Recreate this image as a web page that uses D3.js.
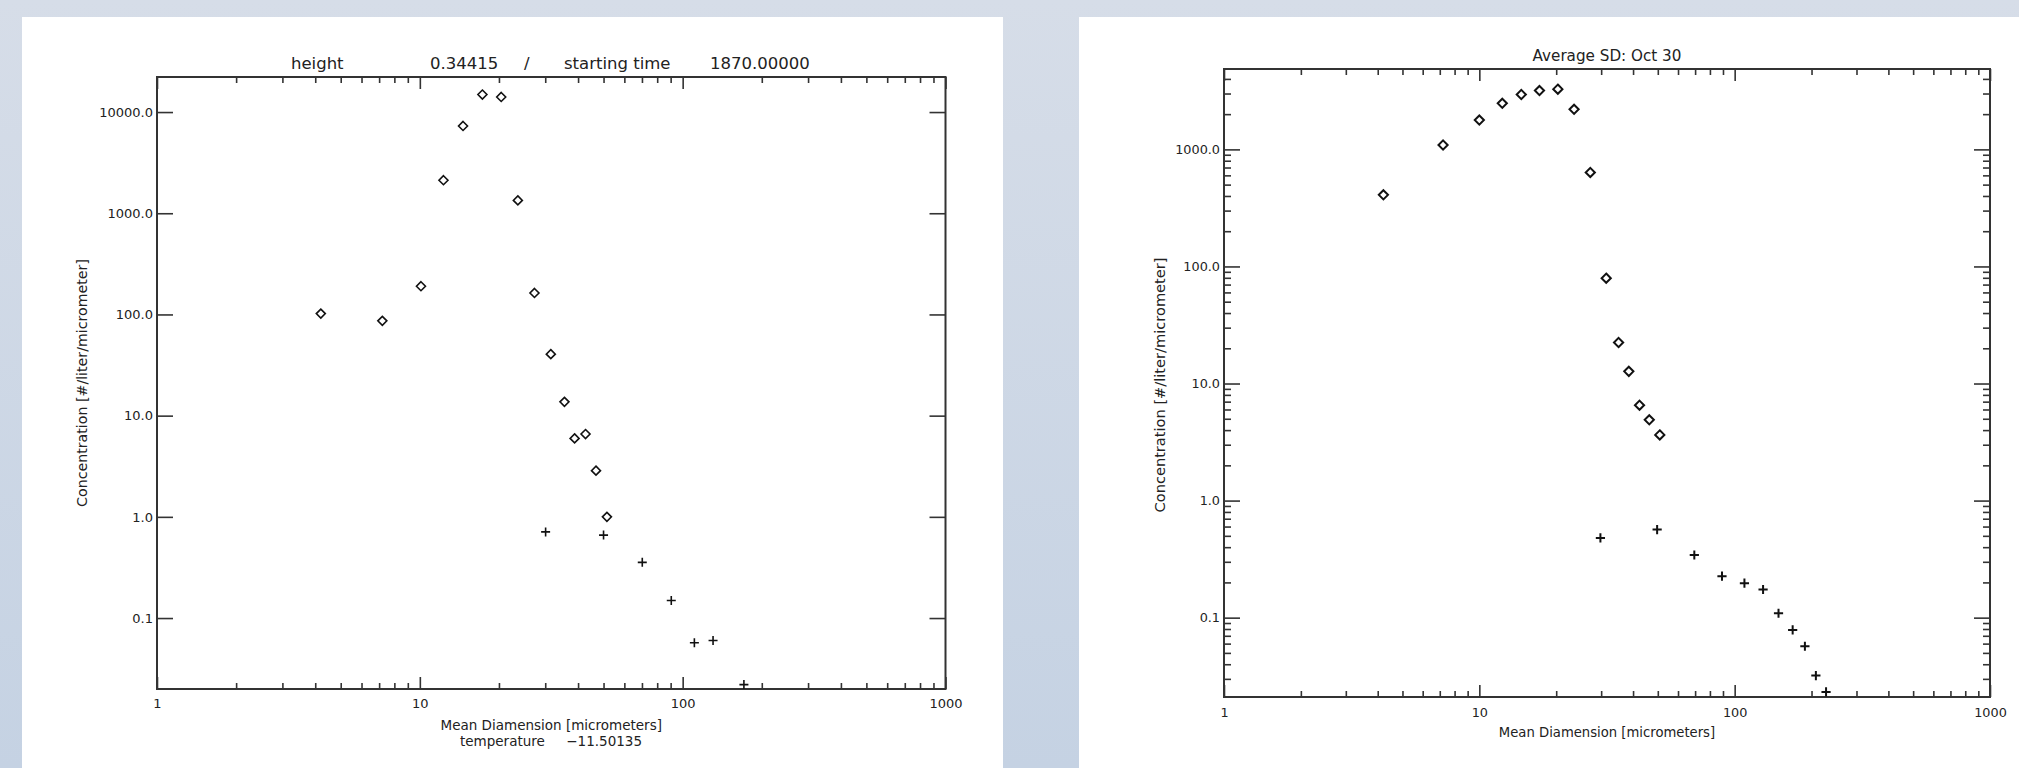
<!DOCTYPE html>
<html>
<head>
<meta charset="utf-8">
<script src="https://cdn.jsdelivr.net/npm/d3@7"></script>
<style>
  html, body { margin: 0; padding: 0; overflow: hidden; }
  svg { display: block; }
  text { font-family: "DejaVu Sans", sans-serif; fill: #222; }
</style>
</head>
<body>
<svg id="chart" width="2019" height="768"></svg>
<script>
// ---- data ----
// left plot: height 0.34415 / starting time 1870
var leftDiamondD = [4.2, 7.2, 10.1, 12.3, 14.6, 17.3, 20.4, 23.6, 27.3, 31.5, 35.5, 38.8, 42.7, 46.8, 51.5];
var leftDiamondN = [102, 86.5, 190, 2120, 7290, 14900, 14100, 1340, 163, 40.5, 13.7, 5.96, 6.58, 2.86, 1.0];
var leftPlusD = [30.1, 50.0, 70.2, 90.5, 110.8, 130.5, 171];
var leftPlusN = [0.71, 0.66, 0.355, 0.149, 0.057, 0.060, 0.022];

// right plot: Average SD Oct 30
var rightDiamondD = [4.21, 7.21, 10.0, 12.3, 14.6, 17.2, 20.3, 23.5, 27.2, 31.4, 35.1, 38.5, 42.4, 46.3, 50.9];
var rightDiamondN = [409, 1090, 1780, 2475, 2944, 3180, 3270, 2200, 635, 79.4, 22.4, 12.7, 6.53, 4.9, 3.64];
var rightPlusD = [29.8, 49.7, 69.5, 89.2, 109.2, 129.2, 148.5, 168.7, 188.4, 208, 228];
var rightPlusN = [0.48, 0.565, 0.343, 0.226, 0.197, 0.174, 0.109, 0.0785, 0.057, 0.032, 0.0232];

var xMajor = [1, 10, 100, 1000];
var leftYMajor = [0.1, 1, 10, 100, 1000, 10000];
var rightYMajor = [0.1, 1, 10, 100, 1000];
var leftYDomain = [0.0199, 22200];
var rightYDomain = [0.021, 4860];

var svg = d3.select("#chart");

// background
var defs = svg.append("defs");
var grad = defs.append("linearGradient").attr("id", "bg")
    .attr("x1", 0).attr("y1", 0).attr("x2", 0).attr("y2", 1);
grad.append("stop").attr("offset", "0%").attr("stop-color", "#d6dde8");
grad.append("stop").attr("offset", "100%").attr("stop-color", "#c5d2e3");
svg.append("rect").attr("width", 2019).attr("height", 768).attr("fill", "url(#bg)");

svg.append("rect").attr("x", 22).attr("y", 17).attr("width", 981).attr("height", 760).attr("fill", "#fff");
svg.append("rect").attr("x", 1079).attr("y", 17).attr("width", 950).attr("height", 760).attr("fill", "#fff");

function minorTicks(lo, hi) {
    var out = [];
    for (var p = lo; p < hi; p++) {
        for (var k = 2; k <= 9; k++) out.push(k * Math.pow(10, p));
    }
    return out;
}

function drawPanel(opt) {
    var x = d3.scaleLog().domain([1, 1000]).range([opt.left, opt.right]);
    var y = d3.scaleLog().domain(opt.yDomain).range([opt.bottom, opt.top]);
    var g = svg.append("g");
    var w = opt.right - opt.left, h = opt.bottom - opt.top;
    var xMinor = minorTicks(0, 3);

    // bottom axis
    g.append("g").attr("transform", "translate(0," + opt.bottom + ")")
        .call(d3.axisBottom(x).tickValues(xMinor).tickSize(-6).tickFormat(""));
    g.append("g").attr("transform", "translate(0," + opt.bottom + ")")
        .call(d3.axisBottom(x).tickValues(xMajor).tickSize(-12).tickPadding(opt.xPad)
            .tickFormat(d3.format("d")));
    // top axis
    g.append("g").attr("transform", "translate(0," + opt.top + ")")
        .call(d3.axisTop(x).tickValues(xMinor).tickSize(-6).tickFormat(""));
    g.append("g").attr("transform", "translate(0," + opt.top + ")")
        .call(d3.axisTop(x).tickValues(xMajor).tickSize(-12).tickFormat(""));

    // left / right axes
    if (opt.yMinor) {
        var ym = minorTicks(-2, 4).filter(function(v) { return v >= opt.yDomain[0] && v <= opt.yDomain[1]; });
        g.append("g").attr("transform", "translate(" + opt.left + ",0)")
            .call(d3.axisLeft(y).tickValues(ym).tickSize(-7).tickFormat(""));
        g.append("g").attr("transform", "translate(" + opt.right + ",0)")
            .call(d3.axisRight(y).tickValues(ym).tickSize(-7).tickFormat(""));
    }
    g.append("g").attr("transform", "translate(" + opt.left + ",0)")
        .call(d3.axisLeft(y).tickValues(opt.yMajor).tickSize(-16).tickPadding(4)
            .tickFormat(d3.format(".1f")));
    g.append("g").attr("transform", "translate(" + opt.right + ",0)")
        .call(d3.axisRight(y).tickValues(opt.yMajor).tickSize(-16).tickFormat(""));

    g.selectAll(".domain").remove();
    g.selectAll(".tick line").attr("stroke", "#333").attr("stroke-width", 1.6);
    g.selectAll(".tick text").style("font-size", opt.tickFont + "px").attr("fill", "#222");

    // box
    g.append("rect").attr("x", opt.left).attr("y", opt.top).attr("width", w).attr("height", h)
        .attr("fill", "none").attr("stroke", "#333").attr("stroke-width", 2);

    // diamonds
    var dia = opt.dD.map(function(d, i) { return {d: d, n: opt.dN[i]}; });
    var s = opt.mk;
    g.selectAll(".dia").data(dia).enter().append("path")
        .attr("class", "dia")
        .attr("d", "M0," + (-s) + "L" + s + ",0L0," + s + "L" + (-s) + ",0Z")
        .attr("transform", function(p) { return "translate(" + x(p.d) + "," + y(p.n) + ")"; })
        .attr("fill", "none").attr("stroke", "#111").attr("stroke-width", opt.mkw);

    // plus signs
    var pl = opt.pD.map(function(d, i) { return {d: d, n: opt.pN[i]}; });
    g.selectAll(".pl").data(pl).enter().append("path")
        .attr("class", "pl")
        .attr("d", "M" + (-s) + ",0H" + s + "M0," + (-s) + "V" + s)
        .attr("transform", function(p) { return "translate(" + x(p.d) + "," + y(p.n) + ")"; })
        .attr("fill", "none").attr("stroke", "#111").attr("stroke-width", opt.mkw);

    // y title
    var cx = opt.yTitleX, cy = opt.yTitleY;
    g.append("text").attr("transform", "translate(" + cx + "," + cy + ") rotate(-90)")
        .attr("text-anchor", "middle").attr("dy", "0.35em")
        .style("font-size", opt.yLabelFont + "px")
        .text("Concentration [#/liter/micrometer]");

    // x title
    g.append("text").attr("x", (opt.left + opt.right) / 2).attr("y", opt.xTitleY)
        .attr("text-anchor", "middle").style("font-size", opt.labelFont + "px")
        .text("Mean Diamension [micrometers]");
    return g;
}

var gl = drawPanel({
    left: 157, right: 945.5, top: 77, bottom: 689,
    yDomain: leftYDomain, yMajor: leftYMajor, yMinor: false,
    dD: leftDiamondD, dN: leftDiamondN, pD: leftPlusD, pN: leftPlusN,
    mk: 4.5, mkw: 1.6, tickFont: 13, labelFont: 13.5, yLabelFont: 14.2, xPad: 10,
    yTitleX: 82, yTitleY: 383, xTitleY: 730
});

gl.append("text").attr("x", 551).attr("y", 746).attr("text-anchor", "middle")
    .style("font-size", "13.5px").attr("xml:space", "preserve")
    .text("temperature     \u221211.50135");

// left title pieces
var titleL = gl.append("text").attr("y", 69).style("font-size", "16.5px");
titleL.append("tspan").attr("x", 291).text("height");
titleL.append("tspan").attr("x", 430).text("0.34415");
titleL.append("tspan").attr("x", 524).text("/");
titleL.append("tspan").attr("x", 564).text("starting time");
titleL.append("tspan").attr("x", 710).text("1870.00000");

var gr = drawPanel({
    left: 1224, right: 1990, top: 69, bottom: 697,
    yDomain: rightYDomain, yMajor: rightYMajor, yMinor: true,
    dD: rightDiamondD, dN: rightDiamondN, pD: rightPlusD, pN: rightPlusN,
    mk: 4.6, mkw: 2, tickFont: 12.8, labelFont: 13.2, yLabelFont: 14.6, xPad: 11,
    yTitleX: 1160, yTitleY: 385, xTitleY: 737
});

gr.append("text").attr("x", 1607).attr("y", 61).attr("text-anchor", "middle")
    .style("font-size", "15.2px").text("Average SD: Oct 30");
</script>
</body>
</html>
